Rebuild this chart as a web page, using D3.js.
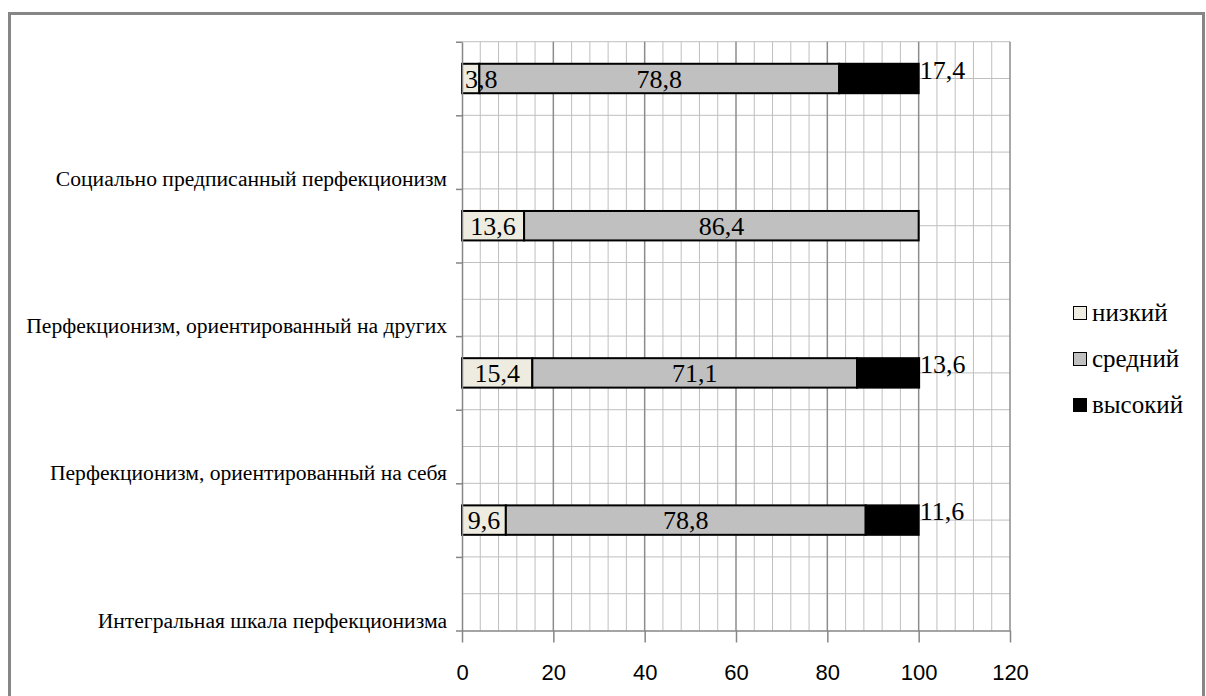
<!DOCTYPE html>
<html>
<head>
<meta charset="utf-8">
<script src="https://cdn.jsdelivr.net/npm/d3@7"></script>
<style>
  body { margin: 0; background: #fff; }
  svg { display: block; }
  .serif { font-family: "Liberation Serif", "Times New Roman", serif; }
  .sans { font-family: "Liberation Sans", Arial, sans-serif; }
</style>
</head>
<body>
<svg id="chart" width="1206" height="696"></svg>
<script>
// Perfectionism scales, share of respondents by level (%), top to bottom
const categories = [
  "Социально предписанный перфекционизм",
  "Перфекционизм, ориентированный на других",
  "Перфекционизм, ориентированный на себя",
  "Интегральная шкала перфекционизма"
];
const lowValues  = [3.8, 13.6, 15.4, 9.6];
const midValues  = [78.8, 86.4, 71.1, 78.8];
const highValues = [17.4, 0, 13.6, 11.6];
const seriesNames = ["низкий", "средний", "высокий"];
const seriesColors = ["#eeece1", "#c0c0c0", "#000000"];
const xTicks = [0, 20, 40, 60, 80, 100, 120];

const svg = d3.select("#chart");
const plot = { left: 462, right: 1010, top: 41.7, bottom: 630.5 };

const x = d3.scaleLinear().domain([0, 120]).range([plot.left, plot.right]);
const y = d3.scaleBand().domain(categories).range([plot.top, plot.bottom]);
const bw = y.bandwidth();
// quarter-band lattice used for the horizontal grid and the axis ticks
const yGrid = d3.scaleLinear().domain([0, categories.length * 4]).range([plot.top, plot.bottom]);

const fmt = v => String(v).replace(".", ",");

// outer frame
svg.append("rect")
  .attr("x", 9.5).attr("y", 13.5)
  .attr("width", 1194).attr("height", 720)
  .attr("fill", "none").attr("stroke", "#868686").attr("stroke-width", 3);

// grid: minor every 4, major every 20, horizontal every quarter band
const gGrid = svg.append("g");
gGrid.selectAll("line.vminor")
  .data(d3.range(4, 121, 4).filter(v => v % 20 !== 0))
  .join("line")
  .attr("x1", d => x(d)).attr("x2", d => x(d))
  .attr("y1", plot.top).attr("y2", plot.bottom)
  .attr("stroke", "#bfbfbf").attr("stroke-width", 1);
gGrid.selectAll("line.hgrid")
  .data(d3.range(0, categories.length * 4))
  .join("line")
  .attr("x1", plot.left).attr("x2", plot.right)
  .attr("y1", d => yGrid(d)).attr("y2", d => yGrid(d))
  .attr("stroke", "#bfbfbf").attr("stroke-width", 1);
gGrid.selectAll("line.vmajor")
  .data(xTicks.filter(v => v > 0))
  .join("line")
  .attr("x1", d => x(d)).attr("x2", d => x(d))
  .attr("y1", plot.top).attr("y2", plot.bottom)
  .attr("stroke", "#8c8c8c").attr("stroke-width", 1.5);

// stacked bars
const rows = categories.map((c, i) => {
  const vals = [lowValues[i], midValues[i], highValues[i]];
  let acc = 0;
  return {
    cat: c,
    segs: vals.map((v, k) => {
      const s = { k, v, x0: acc, x1: acc + v };
      acc += v;
      return s;
    })
  };
});

const barH = bw * 0.2;
const barCenter = c => y(c) + bw / 4;

const gBars = svg.append("g");
rows.forEach(r => {
  const cy = barCenter(r.cat);
  const segs = r.segs.filter(s => s.v > 0);
  gBars.selectAll(null)
    .data(segs)
    .join("rect")
    .attr("x", s => x(s.x0))
    .attr("y", cy - barH / 2)
    .attr("width", s => x(s.x1) - x(s.x0))
    .attr("height", barH)
    .attr("fill", s => seriesColors[s.k])
    .attr("stroke", "#000").attr("stroke-width", 2);

  // value labels
  segs.forEach(s => {
    const t = gBars.append("text")
      .attr("class", "serif")
      .attr("font-size", 26)
      .attr("fill", "#000")
      .text(fmt(s.v));
    if (s.k === 2) {
      t.attr("x", x(s.x1) + 1).attr("y", cy).attr("text-anchor", "start");
    } else {
      const w = t.node().getComputedTextLength();
      const cx = Math.max((x(s.x0) + x(s.x1)) / 2, plot.left + w / 2 + 3);
      t.attr("x", cx).attr("y", cy + 9).attr("text-anchor", "middle");
    }
  });
});

// axes
const xAxis = svg.append("g")
  .attr("transform", `translate(0,${plot.bottom})`)
  .call(d3.axisBottom(x).tickValues(xTicks).tickSize(12).tickSizeOuter(0));
xAxis.select(".domain").attr("stroke", "#868686").attr("stroke-width", 1.5);
xAxis.selectAll(".tick line").attr("stroke", "#868686").attr("stroke-width", 1.5);
xAxis.selectAll(".tick text")
  .attr("class", "sans")
  .attr("font-size", 22).attr("fill", "#000").attr("y", 49).attr("dy", 0);

const yAxis = svg.append("g")
  .attr("transform", `translate(${plot.left},0)`)
  .call(d3.axisLeft(yGrid).tickValues(d3.range(0, categories.length * 4 + 1, 2))
    .tickFormat("").tickSize(6).tickSizeOuter(0));
yAxis.select(".domain").attr("stroke", "#868686").attr("stroke-width", 1.5);
yAxis.selectAll(".tick line").attr("stroke", "#868686").attr("stroke-width", 1.5);

// category labels
svg.append("g").selectAll("text")
  .data(categories)
  .join("text")
  .attr("class", "serif")
  .attr("x", plot.left - 15)
  .attr("y", d => y(d) + bw - 3)
  .attr("text-anchor", "end")
  .attr("font-size", 21.6)
  .attr("fill", "#000")
  .text(d => d);

// legend
const legend = svg.append("g").attr("transform", "translate(1073,313)");
seriesNames.forEach((n, i) => {
  const g = legend.append("g").attr("transform", `translate(0,${i * 46})`);
  g.append("rect")
    .attr("x", 0.5).attr("y", -6.5).attr("width", 13).attr("height", 13)
    .attr("fill", seriesColors[i]).attr("stroke", "#000").attr("stroke-width", 1);
  g.append("text")
    .attr("class", "serif")
    .attr("x", 19).attr("y", 8)
    .attr("font-size", 25)
    .attr("fill", "#000")
    .text(n);
});
</script>
</body>
</html>
